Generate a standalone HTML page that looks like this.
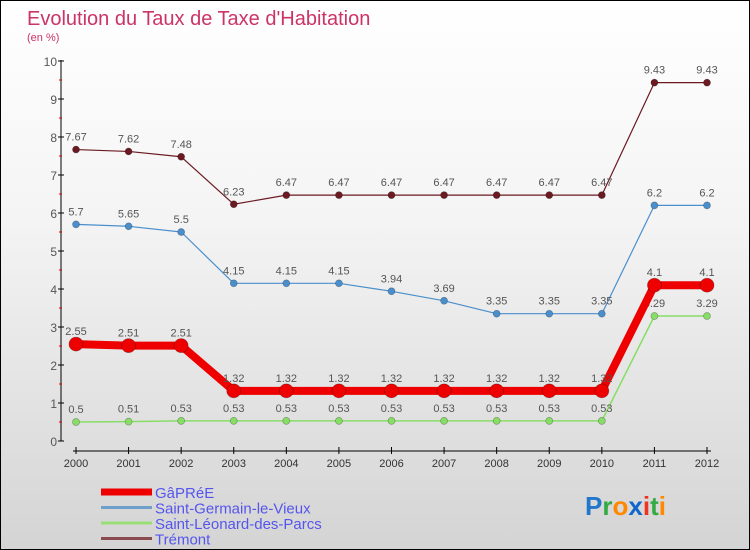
<!DOCTYPE html>
<html><head><meta charset="utf-8">
<style>
body{margin:0;}
#wrap{width:748px;height:548px;border:1px solid #000;background:linear-gradient(#ffffff,#f4f4f4 40%,#d4d4d4);position:relative;overflow:hidden;font-family:"Liberation Sans",sans-serif;}
</style></head>
<body>
<div id="wrap">
<svg id="c" width="748" height="548"></svg>
</div>
<script>
const years=["2000","2001","2002","2003","2004","2005","2006","2007","2008","2009","2010","2011","2012"];
const gapree=[2.55,2.51,2.51,1.32,1.32,1.32,1.32,1.32,1.32,1.32,1.32,4.1,4.1];
const stGermain=[5.7,5.65,5.5,4.15,4.15,4.15,3.94,3.69,3.35,3.35,3.35,6.2,6.2];
const stLeonard=[0.5,0.51,0.53,0.53,0.53,0.53,0.53,0.53,0.53,0.53,0.53,3.29,3.29];
const tremont=[7.67,7.62,7.48,6.23,6.47,6.47,6.47,6.47,6.47,6.47,6.47,9.43,9.43];
const yTicks=[0,1,2,3,4,5,6,7,8,9,10];
const legendNames=["GâPRéE","Saint-Germain-le-Vieux","Saint-Léonard-des-Parcs","Trémont"];

const NS="http://www.w3.org/2000/svg";
const svg=document.getElementById('c');
function x(i){return 75+i*(706-75)/12;}
function y(v){return 440-v*38;}
function mk(t,a,parent){const e=document.createElementNS(NS,t);for(const k in a)e.setAttribute(k,a[k]);(parent||svg).appendChild(e);return e;}

let t=mk('text',{x:26,y:24,fill:'#cc3366','font-size':20});t.textContent="Evolution du Taux de Taxe d'Habitation";


t=mk('text',{x:26,y:40,fill:'#cc3366','font-size':11});t.textContent="(en %)";



let ax=mk('line',{x1:60,y1:59,x2:60,y2:440,stroke:'#000','stroke-width':1});


yTicks.forEach(v=>{
  mk('line',{x1:57,y1:y(v),x2:63,y2:y(v),stroke:'#000'});
  if(v<10) mk('line',{x1:58,y1:y(v+0.5),x2:61,y2:y(v+0.5),stroke:'#d00'});
  const l=mk('text',{x:56,y:y(v)+5,'text-anchor':'end','font-size':12,fill:'#555'});l.textContent=v;
  
  
});
ax=mk('line',{x1:72,y1:450,x2:710,y2:450,stroke:'#000'});


years.forEach((yr,i)=>{
  mk('line',{x1:x(i),y1:446,x2:x(i),y2:453,stroke:'#000'});
  const l=mk('text',{x:x(i),y:466,'text-anchor':'middle','font-size':11,fill:'#333'});l.textContent=yr;
  
  
});

function series(data,color,w,r,name){
  const g=mk('g',{});
  
  
  mk('polyline',{points:data.map((v,i)=>x(i)+','+y(v)).join(' '),fill:'none',stroke:color,'stroke-width':w,'stroke-linejoin':'round'},g);
  data.forEach((v,i)=>{
    const c=mk('circle',{cx:x(i),cy:y(v),r:r,fill:color,stroke:'rgba(0,0,0,0.3)','stroke-width':0.7},g);
    
    
    const l=mk('text',{x:x(i),y:y(v)-9,'text-anchor':'middle','font-size':11,fill:'#555'},g);l.textContent=v;
    
    
  });
}
series(tremont,'#6b1a22',1.2,3.5,'tremont-series');
series(stGermain,'#4a8fcc',1.2,3.5,'saint-germain-series');
series(stLeonard,'#88dd66',1.5,3.5,'saint-leonard-series');
series(gapree,'#ee0000',8,7,'gapree-series');

const lcol=['#ee0000','#6fa0cc','#99dd77','#8a4b50'];const lw=[7,3,3,3];
legendNames.forEach((n,i)=>{
  const yy=491+i*15.5;
  const g=mk('g',{});
  
  
  mk('line',{x1:100,y1:yy,x2:151,y2:yy,stroke:lcol[i],'stroke-width':lw[i]},g);
  const l=mk('text',{x:154,y:yy+6,'font-size':15,fill:'#5555ee'},g);l.textContent=n;
});
const lg=mk('text',{x:584,y:514,'font-size':26,'font-weight':'bold'});


[['P','#2277cc'],['r','#33aa44'],['o','#ff8800'],['x','#1166cc'],['i','#ee3322'],['t','#33aa44'],['i','#ff8800']].forEach(([c,f])=>{const s=mk('tspan',{fill:f},lg);s.textContent=c;});
</script>
</body></html>
